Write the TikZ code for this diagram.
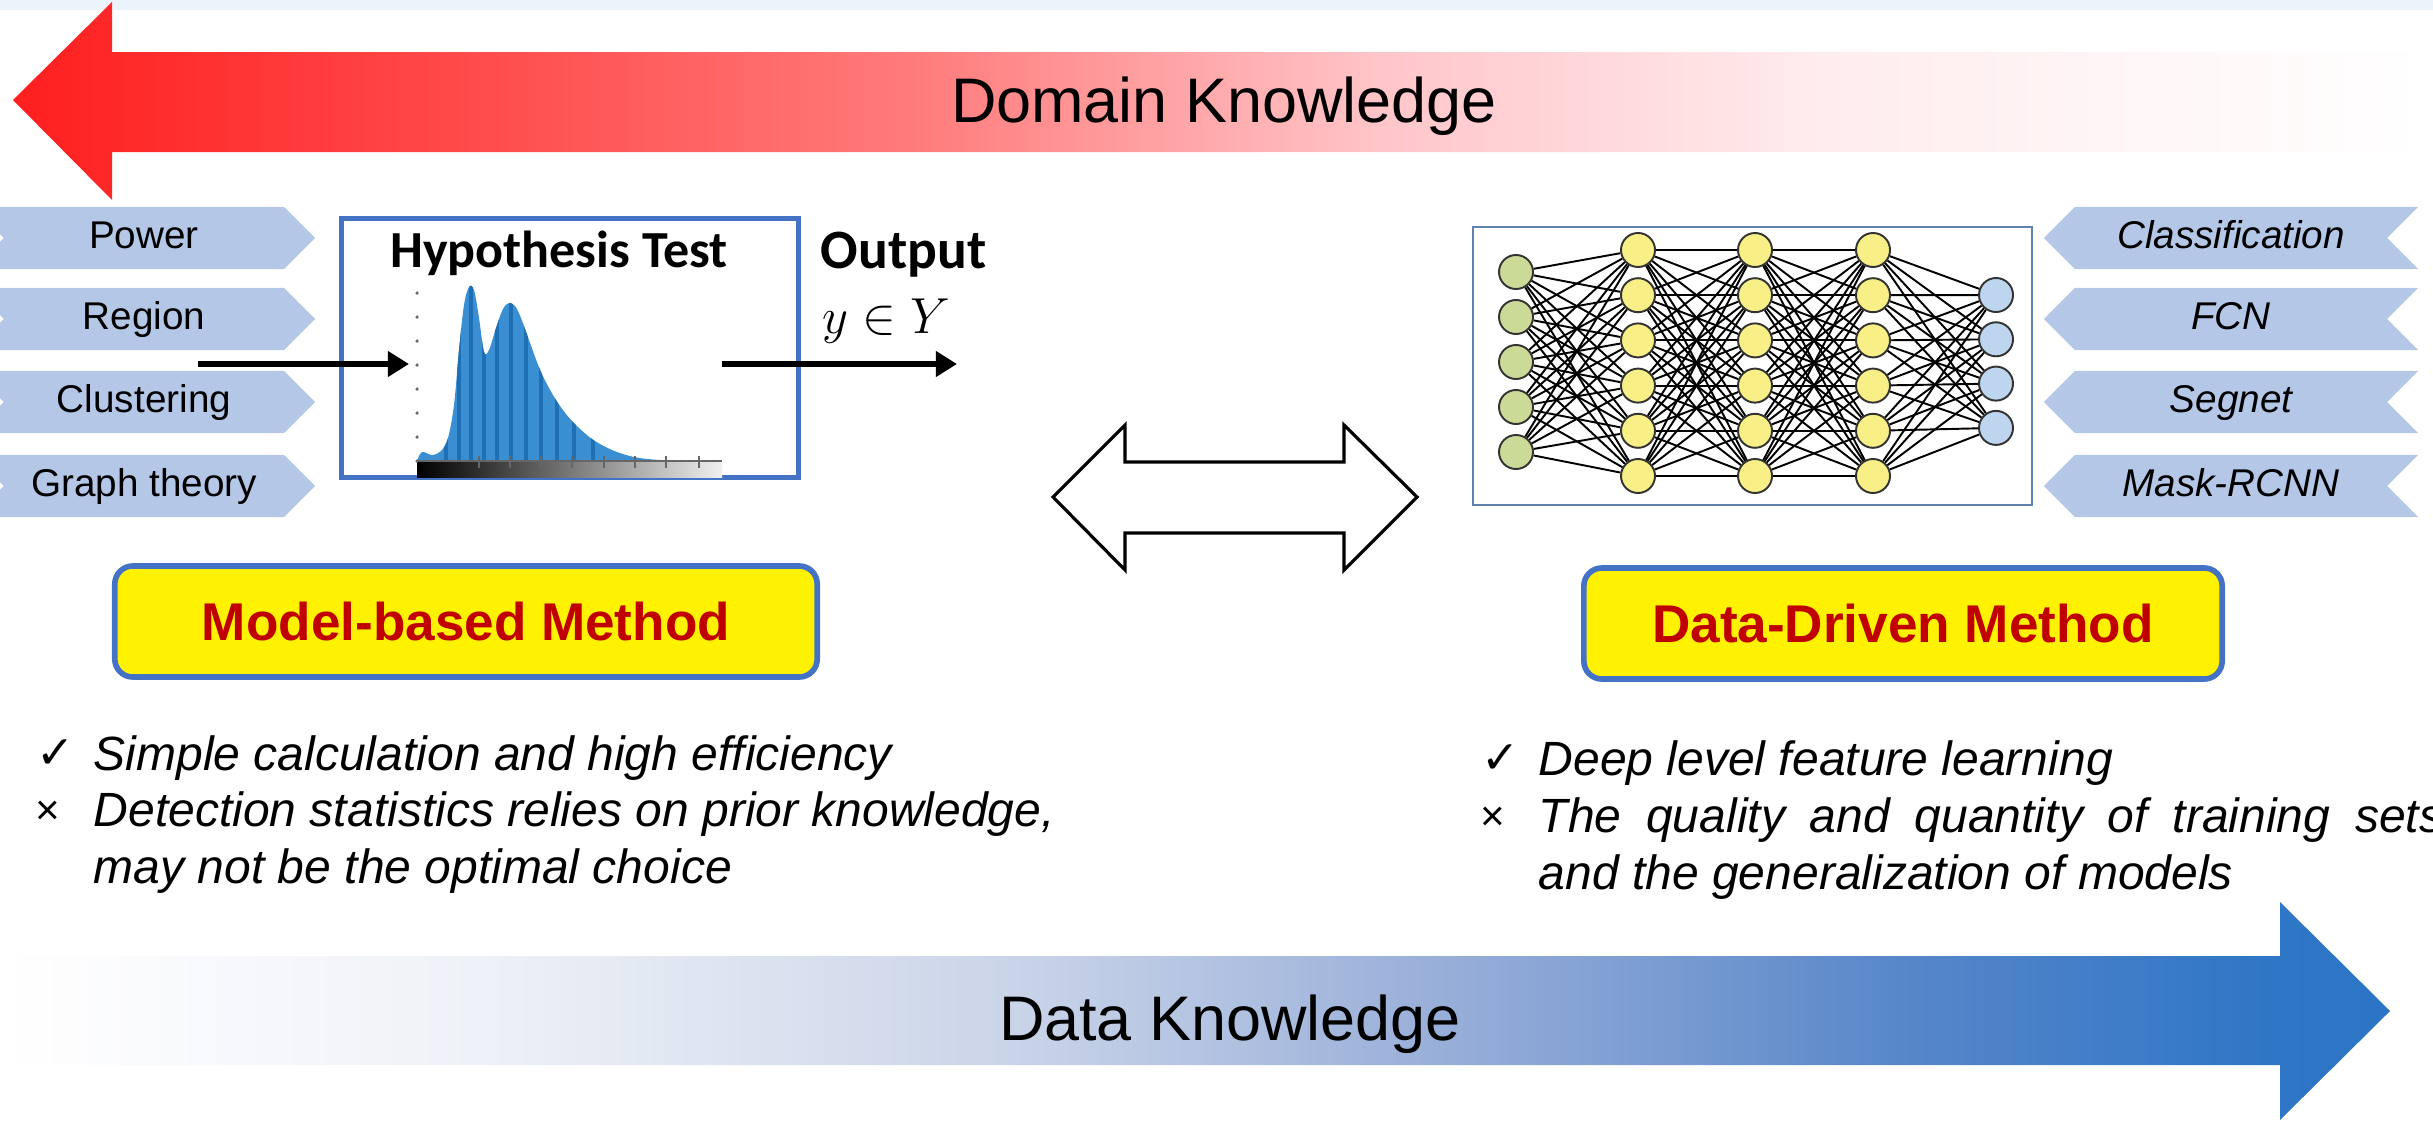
\documentclass[tikz,border=0pt]{standalone}
\usepackage{fontspec}
\setmainfont{Liberation Sans}
\newfontfamily\calibrifont{Carlito}
\newfontfamily\marksfont{DejaVu Sans}
\usepackage{tikz}
\usetikzlibrary{positioning}
\usetikzlibrary{shapes.symbols}
\usetikzlibrary{arrows.meta}

\definecolor{topband}{HTML}{EBF3FB}
\definecolor{chevblue}{HTML}{B4C7E7}
\definecolor{frameblue}{HTML}{4472C4}
\definecolor{darkred}{HTML}{C00000}
\definecolor{histblue}{HTML}{3A8FD2}
\definecolor{histdark}{HTML}{1F6FB5}
\definecolor{nngreen}{HTML}{CBDB97}
\definecolor{nnyellow}{HTML}{F8EF86}
\definecolor{nnblue}{HTML}{BDD5EE}
\definecolor{nnframe}{HTML}{5F82AE}
% colour stops of the two long arrows
\definecolor{domA}{HTML}{FF1F1F}
\definecolor{domB}{HTML}{FF4D4D}
\definecolor{domC}{HTML}{FF7D7D}
\definecolor{domD}{HTML}{FFC6CA}
\definecolor{domE}{HTML}{FFECEE}
\definecolor{datA}{HTML}{FFFFFF}
\definecolor{datB}{HTML}{EEF1F7}
\definecolor{datC}{HTML}{CBD5E9}
\definecolor{datD}{HTML}{93ABD7}
\definecolor{datE}{HTML}{5686C9}
\definecolor{datF}{HTML}{2F76C6}
\definecolor{datG}{HTML}{2C74C5}
\pgfdeclarehorizontalshading{domainfade}{100bp}{color(0bp)=(domA); color(25bp)=(domA); color(35bp)=(domB); color(44bp)=(domC); color(53.5bp)=(domD); color(62.5bp)=(domE); color(75bp)=(white); color(100bp)=(white)}
\pgfdeclarehorizontalshading{datafade}{100bp}{color(0bp)=(datA); color(25bp)=(datA); color(35bp)=(datB); color(46bp)=(datC); color(56bp)=(datD); color(65bp)=(datE); color(72.5bp)=(datF); color(75bp)=(datG); color(100bp)=(datG)}

\begin{document}
\begin{tikzpicture}
    [
    x=0.01cm, y=-0.01cm,
    chevin/.style={signal,signal to=east,signal from=west,fill=chevblue,inner sep=0pt,minimum width=3.42cm,minimum height=0.62cm,text height=8pt,text depth=2.3pt,font=\fontsize{11}{13}\selectfont},
    chevout/.style={signal,signal to=west,signal from=east,fill=chevblue,inner sep=0pt,minimum width=3.74cm,minimum height=0.62cm,text height=8pt,text depth=2.3pt,font=\fontsize{11}{13}\selectfont\itshape},
    method/.style={rectangle,rounded corners=0.18cm,draw=frameblue,line width=1.6pt,fill=yellow,text=darkred,minimum height=1.11cm,font=\fontsize{15.1}{18}\selectfont\bfseries},
    neuron/.style={circle,draw=black!80,line width=0.55pt,inner sep=0pt,minimum size=0.34cm},
    synapse/.style={line width=0.55pt},
    flow/.style={line width=1.7pt,-{Triangle[length=6pt,width=7pt]}},
    note/.style={anchor=base west,inner sep=0pt,font=\fontsize{13.66}{16}\selectfont\itshape},
    okmark/.style={anchor=base west,inner sep=0pt,font=\marksfont\fontsize{13}{15}\selectfont},
    nomark/.style={anchor=base west,inner sep=0pt,font=\fontsize{12}{14}\selectfont},
    knowledge/.style={anchor=base,inner sep=0pt,font=\fontsize{17.9}{21}\selectfont}
    ]
    \useasboundingbox (0,0) rectangle (2433,1121);
    \fill[topband] (0,0) rectangle (2433,10);

    % knowledge arrows
    \shade[shading=domainfade] (13,100) -- (112,2) -- (112,52) -- (2424,52) -- (2424,152)
        -- (112,152) -- (112,200) -- cycle;
    \node[knowledge] (domain) at (1224,122) {Domain Knowledge};
    \shade[shading=datafade] (0,956) -- (2280,956) -- (2280,902) -- (2390,1011) -- (2280,1120)
        -- (2280,1065) -- (0,1065) -- cycle;
    \node[knowledge] (data) at (1230,1040) {Data Knowledge};

    % model side
    \node[chevin] (power) at (144,238) {Power};
    \node[chevin] (region) at (144,319) {Region};
    \node[chevin] (clustering) at (144,402) {Clustering};
    \node[chevin] (graph) at (144,486) {Graph theory};

    \node[draw=frameblue,line width=1.4pt,minimum width=4.56cm,minimum height=2.58cm,inner sep=0pt] (hyp) at (570,348) {};
    \node[anchor=base,inner sep=0pt,font=\calibrifont\bfseries\fontsize{14.8}{17}\selectfont] (hyptitle) at (559,267) {Hypothesis Test};
    \begin{scope}
      \clip plot[smooth,tension=0.55] coordinates {(417,461) (422,452) (432,455) (441,451) (448,438)
        (454,405) (459,350) (464,305) (469,287) (474,290) (479,318) (484,352) (489,350) (496,328)
        (503,309) (509,303) (515,306) (521,318) (529,340) (541,372) (556,400) (572,421) (592,439)
        (612,450) (634,457) (660,460) (700,461)} -- cycle;
      \fill[histblue] (417,280) rectangle (722,462);
      \foreach \x in {446,459,471,484,497,511,526,541,557,574,593}
        \draw[histdark,line width=1pt] (\x,280) -- (\x,462);
    \end{scope}
    \shade[left color=black,right color=white!94!black] (417,461) rectangle (722,477);
    \draw[black!60,line width=0.8pt] (417,461) -- (722,461);
    \foreach \x in {479,510,541,572,604,635,666,699}
      \draw[black!60,line width=0.5pt] (\x,456) -- (\x,468);
    \foreach \y in {293,317,...,461}
      \fill[black!60] (417,\y) circle (0.5pt);
    \coordinate (feed) at (198,364);
    \coordinate (hist-axis) at (409,364);
    \coordinate (hist-end) at (722,364);
    \coordinate (result) at (957,364);
    \draw[flow] (feed) -- (hist-axis);
    \draw[flow] (hist-end) -- (result);
    \node[anchor=base west,inner sep=0pt,font=\calibrifont\bfseries\fontsize{15.8}{18}\selectfont] (output) at (820,268) {Output};
    \node[anchor=base west,inner sep=0pt,font=\fontsize{14}{16}\selectfont] (ylabel) at (822,333) {$y \in Y$};

    % two-way arrow
    \draw[line width=0.9pt,fill=white] (1053,497) -- (1125,425) -- (1125,462) -- (1344,462) -- (1344,425)
        -- (1417,497) -- (1344,570) -- (1344,533) -- (1125,533) -- (1125,570) -- cycle;

    % data side
    \node[draw=nnframe,line width=0.6pt,minimum width=5.59cm,minimum height=2.78cm,inner sep=0pt] (nnbox) at (1752.5,366) {};
    \foreach \k in {1,...,5}
      \node[neuron,fill=nngreen] (in-\k) at (1516,{227+45*\k}) {};
    \foreach \l/\x in {a/1638,b/1755,c/1873}
      \foreach \k in {1,...,6}
        \node[neuron,fill=nnyellow] (h\l-\k) at (\x,{204.8+45.2*\k}) {};
    \foreach \k in {1,...,4}
      \node[neuron,fill=nnblue] (out-\k) at (1996,{250.7+44.3*\k}) {};
    \foreach \i in {1,...,5}
      \foreach \j in {1,...,6}
        \draw[synapse] (in-\i) -- (ha-\j);
    \foreach \i in {1,...,6}
      \foreach \j in {1,...,6}
        \draw[synapse] (ha-\i) -- (hb-\j) (hb-\i) -- (hc-\j);
    \foreach \i in {1,...,6}
      \foreach \j in {1,...,4}
        \draw[synapse] (hc-\i) -- (out-\j);

    \node[chevout] (classif) at (2231,238) {Classification};
    \node[chevout] (fcn) at (2231,319) {FCN};
    \node[chevout] (segnet) at (2231,402) {Segnet};
    \node[chevout] (maskrcnn) at (2231,486) {Mask-RCNN};

    % method labels
    \node[method,minimum width=7.02cm] (model) at (466,621.5) {Model-based Method};
    \node[method,minimum width=6.38cm] (driven) at (1903,623.5) {Data-Driven Method};

    % pros and cons
    \node[okmark] (ok-l) at (36,768) {✓};
    \node[note] (pro-l) at (93,770) {Simple calculation and high efficiency};
    \node[nomark] (no-l) at (35,824) {×};
    \node[note] (con-l) at (93,826) {Detection statistics relies on prior knowledge,};
    \node[note] (con-l2) at (93,883) {may not be the optimal choice};
    \node[okmark] (ok-r) at (1481,773) {✓};
    \node[note] (pro-r) at (1538,775) {Deep level feature learning};
    \node[nomark] (no-r) at (1480,830) {×};
    \node[note] (con-r) at (1538,832) {\makebox[9.04cm][s]{The quality and quantity of training sets}};
    \node[note] (con-r2) at (1538,889) {and the generalization of models};
\end{tikzpicture}
\end{document}
